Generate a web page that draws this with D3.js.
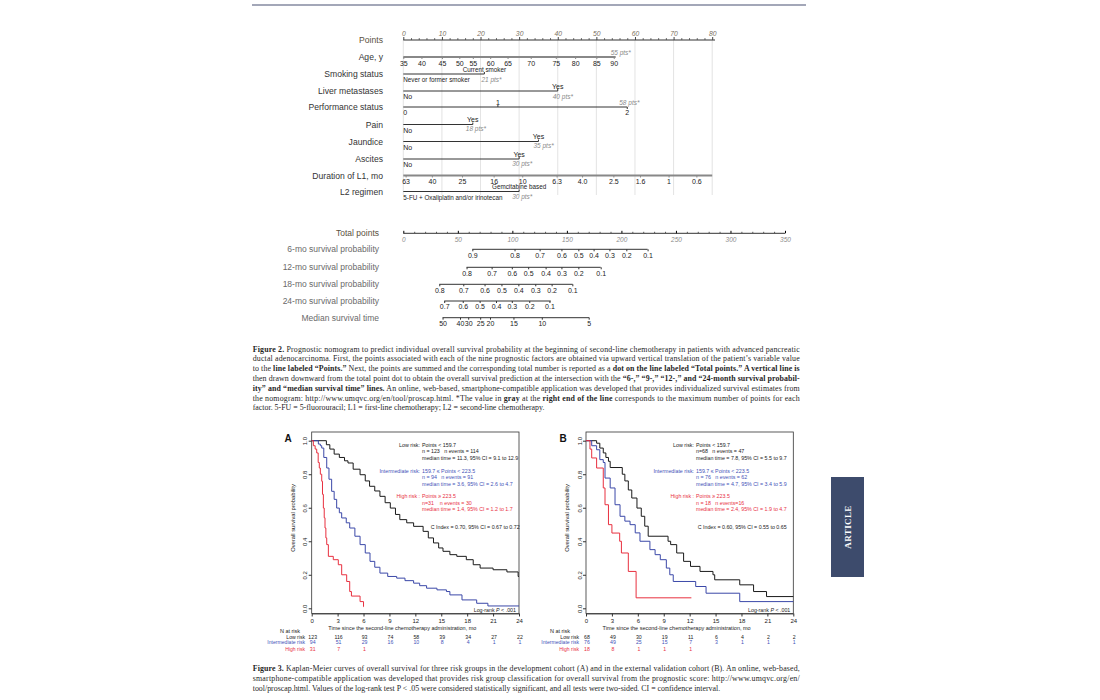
<!DOCTYPE html>
<html><head><meta charset="utf-8">
<script src="https://cdn.jsdelivr.net/npm/d3@7"></script>
<style>body{margin:0;background:#fff}svg{display:block}</style>
</head><body>
<svg id="c" width="1100" height="700"></svg>
<script>
// ---------------- DATA ----------------
const pointTicks = [0,10,20,30,40,50,60,70,80];
const factorNames = ["Age, y","Smoking status","Liver metastases","Performance status","Pain","Jaundice","Ascites","Duration of L1, mo","L2 regimen"];
const ageLabels = ["35","40","45","50","55","60","65","70","75","80","85","90"];
const agePoints = [0,4.7,10,14.5,18,22.5,27,33,39.5,44.5,50,54.5];
const ageMax = 55;
const smokingLabels = ["Never or former smoker","Current smoker"];
const smokingMax = 21;
const liverLabels = ["No","Yes"];
const liverMax = 40;
const perfLabels = ["0","1","2"];
const perfPoints = [0,24.5,58];
const painLabels = ["No","Yes"];
const painMax = 18;
const jaundiceLabels = ["No","Yes"];
const jaundiceMax = 35;
const ascitesLabels = ["No","Yes"];
const ascitesMax = 30;
const durationLabels = ["63","40","25","16","10","6.3","4.0","2.5","1.6","1","0.6"];
const durationPoints = [0.6,7.4,15.2,23.4,30.8,39.7,46.3,54.4,61.3,68.7,75.9];
const durationMax = 80;
const l2Labels = ["5-FU + Oxaliplatin and/or irinotecan","Gemcitabine based"];
const l2Max = 30;

const totalTicks = [0,50,100,150,200,250,300,350];
const surv6Labels = ["0.9","0.8","0.7","0.6","0.5","0.4","0.3","0.2","0.1"];
const surv6Points = [63.3,102,125,145,160.5,174.5,189,204.5,224];
const surv12Labels = ["0.8","0.7","0.6","0.5","0.4","0.3","0.2","0.1"];
const surv12Points = [58,81,99.5,114.5,130.5,145,160.5,181];
const surv18Labels = ["0.8","0.7","0.6","0.5","0.4","0.3","0.2","0.1"];
const surv18Points = [33,55,74.5,90,105.5,121,136,155];
const surv24Labels = ["0.7","0.6","0.5","0.4","0.3","0.2","0.1"];
const surv24Points = [37.5,54.5,70,85,99.5,115.5,134];
const medianLabels = ["50","40","30","25","20","15","10","5"];
const medianPoints = [36,52,59.5,70.5,79.5,101,127,170];
const bottomNames = ["Total points","6-mo survival probability","12-mo survival probability","18-mo survival probability","24-mo survival probability","Median survival time"];

// Kaplan-Meier, cohort A (time in months, survival)
const kmTimeTicks = [0,3,6,9,12,15,18,21,24];
const survTicks = [0,0.2,0.4,0.6,0.8,1.0];
const aLowT = [0,1.7,2.1,2.6,3.2,3.8,4.2,4.8,5.6,6.2,6.7,7.3,7.9,8.5,9.1,9.7,10.2,11.0,11.8,12.9,13.5,14.1,14.7,15.2,16.0,16.8,17.9,18.7,19.5,21.0,22.6,23.9,24.0];
const aLowS = [1.0,0.976,0.95,0.92,0.9,0.88,0.867,0.83,0.797,0.76,0.728,0.70,0.668,0.63,0.598,0.56,0.529,0.51,0.489,0.459,0.42,0.39,0.36,0.34,0.32,0.31,0.29,0.26,0.24,0.23,0.217,0.19,0.19];
const aIntT = [0,0.77,1.0,1.16,1.4,1.74,2.0,2.31,2.6,2.89,3.2,3.47,4.0,4.4,5.0,5.6,6.2,6.75,7.3,7.9,8.8,9.84,10.8,11.8,12.5,13.3,14.5,15.6,16.0,17.4,19.1,20.4,24.0];
const aIntS = [1.0,0.98,0.97,0.956,0.9,0.837,0.77,0.698,0.65,0.598,0.57,0.539,0.51,0.479,0.43,0.38,0.33,0.28,0.245,0.21,0.19,0.18,0.165,0.15,0.135,0.12,0.11,0.10,0.08,0.05,0.03,0.014,0.014];
const aHighT = [0,0.19,0.4,0.58,0.75,0.88,1.0,1.16,1.25,1.35,1.45,1.54,1.64,1.74,1.93,2.5,3.08,3.47,4.05,4.4,4.6,5.6,6.0,6.05];
const aHighS = [1.0,0.97,0.95,0.927,0.87,0.837,0.8,0.758,0.68,0.598,0.54,0.479,0.42,0.38,0.31,0.29,0.26,0.2,0.16,0.10,0.073,0.04,0.01,0.01];
// cohort B
const bLowT = [0,1.23,1.6,2.0,2.3,2.6,2.8,4.2,4.5,4.9,5.3,5.9,6.4,6.8,7.2,9.5,9.8,10.5,11.3,12.1,13.2,14.7,14.9,17.8,19.4,20.9,24.0];
const bLowS = [1.0,0.985,0.956,0.927,0.9,0.877,0.84,0.80,0.76,0.706,0.658,0.598,0.549,0.49,0.43,0.40,0.38,0.33,0.28,0.25,0.22,0.20,0.17,0.14,0.10,0.07,0.07];
const bIntT = [0,0.66,1.23,1.6,2.0,2.2,2.8,3.36,3.94,4.5,5.1,5.7,6.25,7.4,8.0,8.6,9.3,9.7,10.1,12.7,13.9,17.8,24.0];
const bIntS = [1.0,0.97,0.946,0.887,0.87,0.777,0.718,0.618,0.549,0.52,0.499,0.45,0.40,0.35,0.32,0.29,0.24,0.2,0.16,0.13,0.09,0.04,0.04];
const bHighT = [0,0.46,0.66,1.23,2.0,2.2,2.6,3.0,3.9,4.1,4.9,5.8,12.2];
const bHighS = [1.0,0.95,0.897,0.837,0.718,0.618,0.499,0.449,0.40,0.33,0.22,0.0625,0.0625];

const riskNames = ["Low risk","Intermediate risk","High risk"];
const aAtRisk = [[123,116,93,74,58,39,34,27,22],[94,51,29,16,10,8,4,1,1],[31,7,1]];
const bAtRisk = [[68,49,30,19,11,6,4,2,2],[76,49,25,15,7,3,1,1,1],[18,8,1,1,1]];
const aRiskText = [
  ["Low risk:","Points < 159.7","n = 123   n events = 114","median time = 11.3, 95% CI = 9.1 to 12.9"],
  ["Intermediate risk:","159.7 \u2264 Points < 223.5","n = 94   n events = 91","median time = 3.6, 95% CI = 2.6 to 4.7"],
  ["High risk :","Points \u2265 223.5","n=31    n events = 30","median time = 1.4, 95% CI = 1.2 to 1.7"]];
const bRiskText = [
  ["Low risk:","Points < 159.7","n=68   n events = 47","median time = 7.8, 95% CI = 5.5 to 9.7"],
  ["Intermediate risk:","159.7 \u2264 Points < 223.5","n = 76   n events = 62","median time = 4.7, 95% CI = 3.4 to 5.9"],
  ["High risk :","Points \u2265 223.5","n = 18   n events=16","median time = 2.4, 95% CI = 1.9 to 4.7"]];
const aCIndex = "C Index = 0.70, 95% CI = 0.67 to 0.72";
const bCIndex = "C Index = 0.60, 95% CI = 0.55 to 0.65";

const fig2Caption = [
  [["Figure 2.",1],[" Prognostic nomogram to predict individual overall survival probability at the beginning of second-line chemotherapy in patients with advanced pancreatic",0]],
  [["ductal adenocarcinoma. First, the points associated with each of the nine prognostic factors are obtained via upward vertical translation of the patient\u2019s variable value",0]],
  [["to the ",0],["line labeled \u201cPoints.\u201d",1],[" Next, the points are summed and the corresponding total number is reported as a ",0],["dot on the line labeled \u201cTotal points.\u201d A vertical line is",1]],
  [["then drawn downward from the total point dot to obtain the overall survival prediction at the intersection with the ",0],["\u201c6-,\u201d \u201c9-,\u201d \u201c12-,\u201d and \u201c24-month survival probabil-",1]],
  [["ity\u201d and \u201cmedian survival time\u201d lines.",1],[" An online, web-based, smartphone-compatible application was developed that provides individualized survival estimates from",0]],
  [["the nomogram: http://www.umqvc.org/en/tool/proscap.html. *The value in ",0],["gray",1],[" at the ",0],["right end of the line",1],[" corresponds to the maximum number of points for each",0]],
  [["factor. 5-FU = 5-fluorouracil; L1 = first-line chemotherapy; L2 = second-line chemotherapy.",0]]
];
const fig3Caption = [
  [["Figure 3.",1],[" Kaplan-Meier curves of overall survival for three risk groups in the development cohort (A) and in the external validation cohort (B). An online, web-based,",0]],
  [["smartphone-compatible application was developed that provides risk group classification for overall survival from the prognostic score: http://www.umqvc.org/en/",0]],
  [["tool/proscap.html. Values of the log-rank test P < .05 were considered statistically significant, and all tests were two-sided. CI = confidence interval.",0]]
];

// ---------------- DRAW ----------------
const F = "'Liberation Sans', Arial, sans-serif";
const SERIF = "'Liberation Serif', 'Times New Roman', serif";
const svg = d3.select("#c");
svg.append("rect").attr("width",1100).attr("height",700).attr("fill","#fff");

// top rule
svg.append("line").attr("x1",252).attr("x2",806).attr("y1",5).attr("y2",5)
  .attr("stroke","#a3a7b8").attr("stroke-width",2);

const ptsX = d3.scaleLinear().domain([0,80]).range([403.3,712.2]);
const totX = d3.scaleLinear().domain([0,350]).range([403.3,785]);

// grid lines
svg.append("g").selectAll("line").data(pointTicks).join("line")
  .attr("x1",d=>ptsX(d)).attr("x2",d=>ptsX(d)).attr("y1",40).attr("y2",195)
  .attr("stroke","#dcdcdc").attr("stroke-width",0.8);

// Points axis
(function(){
  const y = 40;
  const g = svg.append("g").attr("transform",`translate(0,${y})`);
  g.append("line").attr("x1",ptsX(0)).attr("x2",715).attr("stroke","#333").attr("stroke-width",1);
  const minor = d3.range(0,81,2).filter(d=>d%10!==0);
  const gm = g.append("g").call(d3.axisTop(ptsX).tickValues(minor).tickSize(1.8).tickFormat(""));
  gm.select(".domain").remove();
  gm.selectAll(".tick line").attr("stroke","#555");
  const ga = g.append("g").call(d3.axisTop(ptsX).tickValues(pointTicks).tickSize(3).tickPadding(1.5));
  ga.select(".domain").remove();
  ga.selectAll(".tick line").attr("stroke","#444");
  ga.selectAll(".tick text").attr("font-family",F).attr("font-size",6.8).attr("font-style","italic").attr("fill","#7a7060");
})();

function txt(x,y,s,opt={}){
  return svg.append("text").attr("x",x).attr("y",y).text(s)
    .attr("font-family",opt.family||F).attr("font-size",opt.size||7)
    .attr("fill",opt.fill||"#222").attr("text-anchor",opt.anchor||"start")
    .attr("font-style",opt.style||"normal").attr("font-weight",opt.weight||"normal");
}

// factor label rows
const rowY = [57,74,91,107,124.5,141.5,159,175.5,191.5];
factorNames.forEach((n,i)=>txt(383,rowY[i]+3.1,n,{size:8.6,fill:"#333",anchor:"end"}));
txt(383,40+3.1,"Points",{size:8.6,fill:"#5a5040",anchor:"end"});

function valueAxis(scale,y,vals,labels,from,to,opt={}){
  const g = svg.append("g").attr("transform",`translate(0,${y})`);
  g.append("line").attr("x1",scale(from)).attr("x2",scale(to))
    .attr("stroke",opt.color||"#333").attr("stroke-width",opt.width||1);
  const ax = d3.axisBottom(scale).tickValues(vals).tickSize(opt.tick||2).tickPadding(opt.pad||1.5)
    .tickFormat(d=>labels[vals.indexOf(d)]);
  g.call(ax);
  g.select(".domain").remove();
  g.selectAll(".tick line").attr("stroke",opt.color||"#333");
  g.selectAll(".tick text").attr("font-family",F).attr("font-size",opt.size||7).attr("fill",opt.fill||"#222");
  return g;
}
function ptsLabel(max,y,above){
  txt(ptsX(max)-5, above? y-2.5 : y+7.5, max+" pts*",{size:6.5,style:"italic",fill:"#8a8a8a"});
}

// Age
valueAxis(ptsX,rowY[0],agePoints,ageLabels,0,ageMax,{color:"#888",width:2,size:7,pad:1.6});
ptsLabel(ageMax,rowY[0],true);
// Smoking
function binary(y,labels,max,lsize){
  svg.append("line").attr("x1",ptsX(0)).attr("x2",ptsX(max)).attr("y1",y).attr("y2",y).attr("stroke","#333").attr("stroke-width",1);
  svg.append("line").attr("x1",ptsX(max)).attr("x2",ptsX(max)).attr("y1",y-2).attr("y2",y).attr("stroke","#333");
  txt(ptsX(0),y+8.3,labels[0],{size:lsize||7});
  txt(ptsX(max),y-2.3,labels[1],{size:lsize||7,anchor:"middle"});
}
binary(rowY[1],smokingLabels,smokingMax,6.3);
txt(ptsX(smokingMax)-3,rowY[1]+7.8,smokingMax+" pts*",{size:6.5,style:"italic",fill:"#8a8a8a"});
binary(rowY[2],liverLabels,liverMax);
ptsLabel(liverMax,rowY[2],false);
// Performance
(function(){
  const y = rowY[3];
  svg.append("line").attr("x1",ptsX(0)).attr("x2",ptsX(perfPoints[2])).attr("y1",y).attr("y2",y).attr("stroke","#333");
  svg.append("line").attr("x1",ptsX(perfPoints[1])).attr("x2",ptsX(perfPoints[1])).attr("y1",y-2).attr("y2",y).attr("stroke","#333");
  svg.append("line").attr("x1",ptsX(perfPoints[2])).attr("x2",ptsX(perfPoints[2])).attr("y1",y).attr("y2",y+2).attr("stroke","#333");
  txt(ptsX(perfPoints[0]),y+8.3,perfLabels[0]);
  txt(ptsX(perfPoints[1]),y-2.3,perfLabels[1],{anchor:"middle"});
  txt(ptsX(perfPoints[2]),y+8.3,perfLabels[2],{anchor:"middle"});
  txt(ptsX(58)-8,y-2.5,"58 pts*",{size:6.5,style:"italic",fill:"#8a8a8a"});
})();
binary(rowY[4],painLabels,painMax);
txt(ptsX(painMax)-7,rowY[4]+6,painMax+" pts*",{size:6.5,style:"italic",fill:"#8a8a8a"});
binary(rowY[5],jaundiceLabels,jaundiceMax);
ptsLabel(jaundiceMax,rowY[5]-1,false);
binary(rowY[6],ascitesLabels,ascitesMax);
txt(ptsX(ascitesMax)-7,rowY[6]+7,ascitesMax+" pts*",{size:6.5,style:"italic",fill:"#8a8a8a"});
// Duration
valueAxis(ptsX,rowY[7],durationPoints,durationLabels,0,durationMax,{color:"#888",width:2,size:7,pad:1.6});
// L2
binary(rowY[8],l2Labels,l2Max,6.3);
txt(ptsX(l2Max)-7,rowY[8]+7.6,l2Max+" pts*",{size:6.5,style:"italic",fill:"#8a8a8a"});

// Total points axis
(function(){
  const y = 233.3;
  const g = svg.append("g").attr("transform",`translate(0,${y})`);
  g.append("line").attr("x1",totX(0)).attr("x2",totX(350)).attr("stroke","#333");
  const gm = g.append("g").call(d3.axisTop(totX).tickValues(d3.range(0,351,10).filter(d=>d%50)).tickSize(1.5).tickFormat(""));
  gm.select(".domain").remove(); gm.selectAll(".tick line").attr("stroke","#555");
  const ga = g.append("g").call(d3.axisBottom(totX).tickValues(totalTicks).tickSize(0).tickPadding(4));
  ga.select(".domain").remove();
  ga.selectAll(".tick text").attr("font-family",F).attr("font-size",6.5).attr("font-style","italic").attr("fill","#8a8a8a");
  g.append("g").call(d3.axisTop(totX).tickValues(totalTicks).tickSize(2.5).tickFormat("")).select(".domain").remove();
})();
const bottomY = [233.3,249.3,267.3,284.3,301,317.7];
bottomNames.forEach((n,i)=>txt(379,bottomY[i]+3.1,n,{size:8.5,fill:i===0?"#5a5040":"#6a6a6a",anchor:"end"}));
valueAxis(totX,bottomY[1],surv6Points,surv6Labels,surv6Points[0],224);
valueAxis(totX,bottomY[2],surv12Points,surv12Labels,surv12Points[0],181);
valueAxis(totX,bottomY[3],surv18Points,surv18Labels,surv18Points[0],155.3);
valueAxis(totX,bottomY[4],surv24Points,surv24Labels,surv24Points[0],135.2);
valueAxis(totX,bottomY[5],medianPoints,medianLabels,medianPoints[0],170.5);

// Captions
function caption(lines,y0,dy,lastNatural){
  lines.forEach((segs,i)=>{
    const t = svg.append("text").attr("x",252.7).attr("y",y0+i*dy)
      .attr("font-family",SERIF).attr("font-size",7.9).attr("fill","#1f1f1f")
      .attr("xml:space","preserve").style("white-space","pre");
    if(!(lastNatural && i===lines.length-1)) t.attr("textLength",547).attr("lengthAdjust","spacing");
    segs.forEach(s=>t.append("tspan").text(s[0]).attr("font-weight",s[1]?"bold":"normal"));
  });
}
caption(fig2Caption,351.5,9.8,true);
caption(fig3Caption,671,9.9,true);

// Kaplan-Meier panels
const kmY = d3.scaleLinear().domain([0,1]).range([608.3,440.7]);
const colors = ["#1a1a1a","#3b48a8","#e8303f"];
const textColors = ["#1a1a1a","#4452b8","#e8303f"];
function kmPanel(cfg){
  const x = d3.scaleLinear().domain([0,24]).range(cfg.range);
  const top = 432, bottom = 613.5;
  svg.append("rect").attr("x",x(0)).attr("y",top).attr("width",x(24)-x(0)).attr("height",bottom-top)
    .attr("fill","none").attr("stroke","#333").attr("stroke-width",0.8);
  // y axis
  const gy = svg.append("g").attr("transform",`translate(${x(0)},0)`)
    .call(d3.axisLeft(kmY).tickValues(survTicks).tickSize(3).tickFormat(d3.format(".1f")));
  gy.select(".domain").remove();
  gy.selectAll(".tick line").attr("stroke","#333");
  gy.selectAll(".tick text").attr("x",null).attr("dy",null).attr("text-anchor","middle")
    .attr("transform","translate(-4.3,0) rotate(-90)")
    .attr("font-family",F).attr("font-size",6).attr("fill","#222");
  // x axis
  const gx = svg.append("g").attr("transform",`translate(0,${bottom})`)
    .call(d3.axisBottom(x).tickValues(kmTimeTicks).tickSize(3).tickSizeOuter(0).tickPadding(2.6));
  gx.select(".domain").attr("stroke","#333").attr("stroke-width",0.8);
  gx.selectAll(".tick line").attr("stroke","#333");
  gx.selectAll(".tick text").attr("font-family",F).attr("font-size",6).attr("fill","#222");
  const mid = (x(0)+x(24))/2;
  txt(mid-13,630,"Time since the second-line chemotherapy administration, mo",{size:5.5,anchor:"middle"});
  svg.append("text").attr("transform",`translate(${x(0)-17},518) rotate(-90)`).text("Overall survival probability")
    .attr("font-family",F).attr("font-size",5.8).attr("fill","#222").attr("text-anchor","middle");
  txt(cfg.letterX,441.5,cfg.letter,{size:10,weight:"bold",anchor:"middle",fill:"#111"});
  // curves
  const line = d3.line().x(d=>x(d[0])).y(d=>kmY(d[1])).curve(d3.curveStepAfter);
  cfg.series.forEach((s,i)=>{
    svg.append("path").datum(d3.zip(s[0],s[1])).attr("d",line)
      .attr("fill","none").attr("stroke",colors[i]).attr("stroke-width",1);
  });
  // risk texts
  const groupY = [446.5,472.5,498];
  cfg.riskText.forEach((r,i)=>{
    const c = textColors[i];
    txt(cfg.labelX,groupY[i],r[0],{size:5.3,anchor:"end",fill:c});
    [r[1],r[2],r[3]].forEach((s,j)=>{
      txt(cfg.labelX+2,groupY[i]+j*6.6,s,{size:5.3,fill:c}).style("white-space","pre");
    });
  });
  txt(cfg.cX,529,cfg.cIndex,{size:5.3});
  const lr = svg.append("text").attr("x",x(24)-3).attr("y",bottom-1.6).attr("text-anchor","end")
    .attr("font-family",F).attr("font-size",5.3).attr("fill","#222");
  lr.append("tspan").text("Log-rank ");
  lr.append("tspan").text("P").attr("font-style","italic");
  lr.append("tspan").text(" < .001");
  // at risk table
  txt(cfg.nX,632.5,"N at risk",{size:5.5,anchor:"middle"});
  const rowYs = [639,644.2,650.6];
  cfg.atRisk.forEach((row,i)=>{
    txt(cfg.rowLabelX,rowYs[i],riskNames[i],{size:5.1,anchor:"end",fill:textColors[i]});
    row.forEach((v,j)=>txt(x(kmTimeTicks[j])+1,rowYs[i],String(v),{size:5.2,anchor:"middle",fill:textColors[i]}));
  });
}
kmPanel({range:[311.7,519],letter:"A",letterX:288,series:[[aLowT,aLowS],[aIntT,aIntS],[aHighT,aHighS]],
  riskText:aRiskText,labelX:420,cX:430.7,cIndex:aCIndex,atRisk:aAtRisk,nX:290,rowLabelX:305});
kmPanel({range:[586,793.3],letter:"B",letterX:563,series:[[bLowT,bLowS],[bIntT,bIntS],[bHighT,bHighS]],
  riskText:bRiskText,labelX:694,cX:697.7,cIndex:bCIndex,atRisk:bAtRisk,nX:560,rowLabelX:579});

// ARTICLE tab
svg.append("rect").attr("x",831).attr("y",477).attr("width",33).attr("height",100).attr("fill","#3d4b6c");
svg.append("text").attr("transform","translate(850.5,527) rotate(-90)").text("ARTICLE")
  .attr("font-family",SERIF).attr("font-size",9).attr("font-weight","bold").attr("fill","#fff")
  .attr("text-anchor","middle").attr("letter-spacing",0.4);
</script>
</body></html>
